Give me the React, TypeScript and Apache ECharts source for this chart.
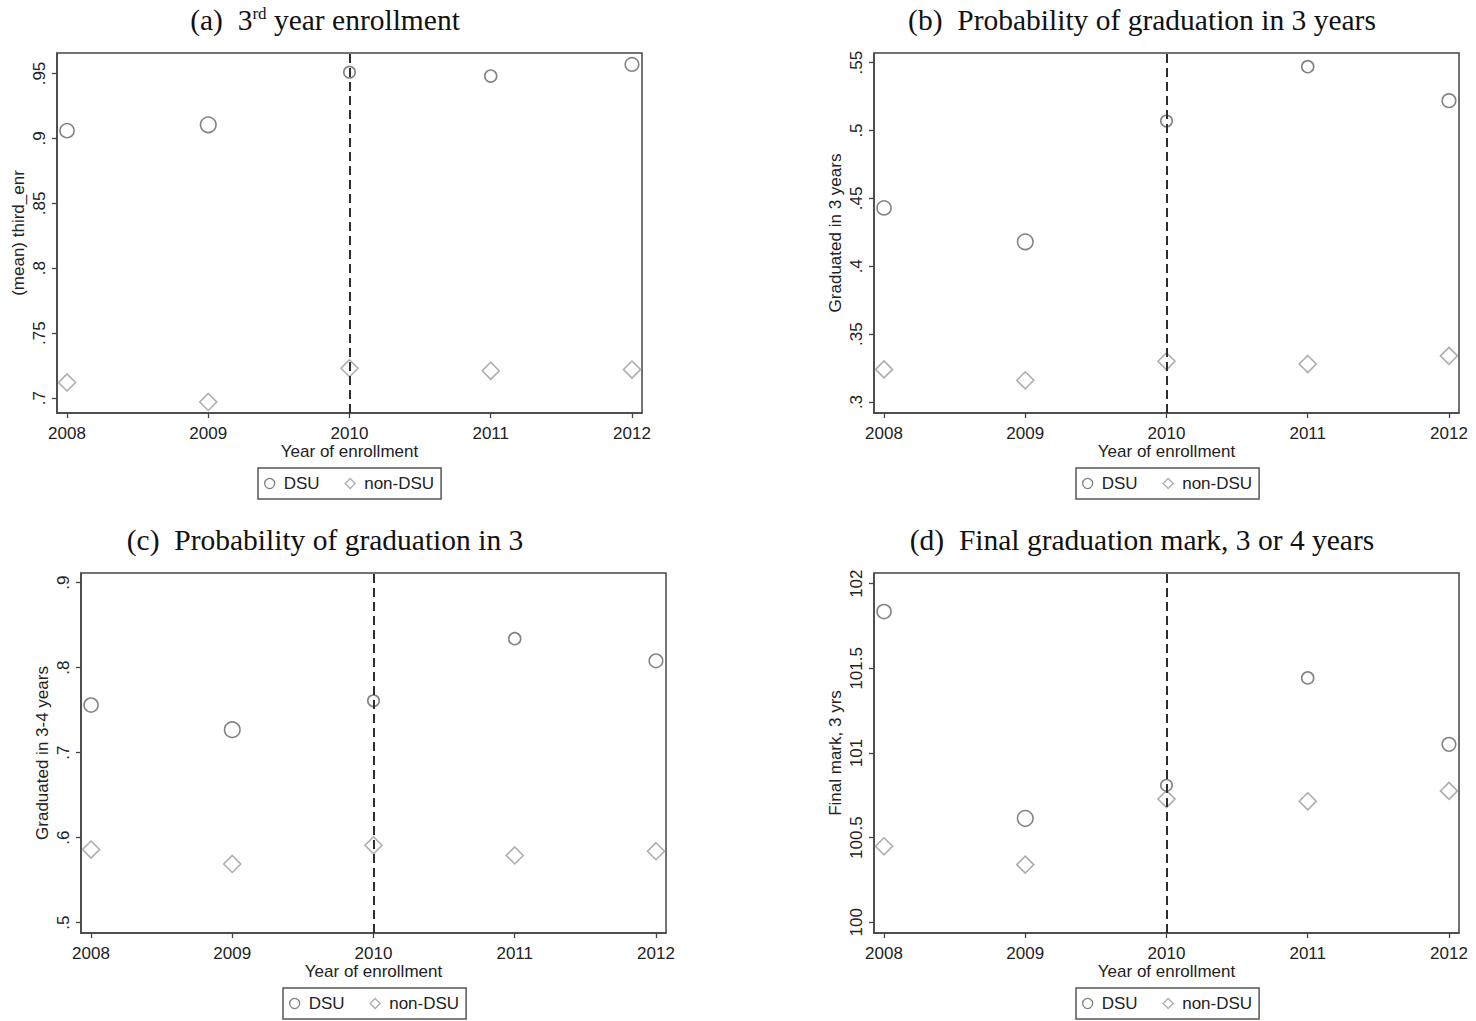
import React, { useEffect, useRef } from "react";
import * as echarts from "echarts";

// ---------- data ----------
const years = [2008, 2009, 2010, 2011, 2012];

const dsuA = [0.906, 0.9105, 0.951, 0.948, 0.957];
const nonDsuA = [0.712, 0.697, 0.723, 0.721, 0.722];

const dsuB = [0.443, 0.418, 0.507, 0.547, 0.522];
const nonDsuB = [0.324, 0.316, 0.33, 0.328, 0.334];

const dsuC = [0.756, 0.727, 0.761, 0.834, 0.808];
const nonDsuC = [0.586, 0.569, 0.591, 0.579, 0.584];

const dsuD = [101.835, 100.614, 100.809, 101.443, 101.051];
const nonDsuD = [100.449, 100.341, 100.728, 100.715, 100.776];

const ticksA = [0.7, 0.75, 0.8, 0.85, 0.9, 0.95];
const ticksB = [0.3, 0.35, 0.4, 0.45, 0.5, 0.55];
const ticksC = [0.5, 0.6, 0.7, 0.8, 0.9];
const ticksD = [100, 100.5, 101, 101.5, 102];

const cutoffYear = 2010;
const seriesNames = ["DSU", "non-DSU"];

// marker sizes (relative cell weights)
const dsuSizes = [14, 15.5, 11.5, 12, 13.5];
const nonDsuSizes = [17, 17, 17, 17, 17];

// ---------- styling ----------
const SANS = '"Liberation Sans", Arial, sans-serif';
const SERIF = '"Liberation Serif", "Times New Roman", serif';
const DSU_COLOR = "#646464";
const NON_COLOR = "#989898";
const FRAME = "#444";

const GRID_W = 585;
const GRID_H = 360;

type Panel = {
  title: string;
  tx: number;
  ty: number;
  left: number;
  top: number;
  yName: string;
  yMin: number;
  yMax: number;
  ticks: number[];
  dsu: number[];
  non: number[];
  legLeft: number;
  legTop: number;
  fmt: (v: number) => string;
};

const dropZero = (v: number) => String(v).replace(/^0\./, ".");

const panels: Panel[] = [
  {
    title: "(a)  3{sup|rd} year enrollment",
    tx: 325, ty: 20, left: 57, top: 53,
    yName: "(mean) third_enr", yMin: 0.6885, yMax: 0.9658,
    ticks: ticksA, dsu: dsuA, non: nonDsuA,
    legLeft: 258, legTop: 468, fmt: dropZero,
  },
  {
    title: "(b)  Probability of graduation in 3 years",
    tx: 1142, ty: 20, left: 874, top: 53,
    yName: "Graduated in 3 years", yMin: 0.2919, yMax: 0.5571,
    ticks: ticksB, dsu: dsuB, non: nonDsuB,
    legLeft: 1076, legTop: 468, fmt: dropZero,
  },
  {
    title: "(c)  Probability of graduation in 3",
    tx: 325, ty: 540, left: 81, top: 573,
    yName: "Graduated in 3-4 years", yMin: 0.4878, yMax: 0.9113,
    ticks: ticksC, dsu: dsuC, non: nonDsuC,
    legLeft: 283, legTop: 988, fmt: dropZero,
  },
  {
    title: "(d)  Final graduation mark, 3 or 4 years",
    tx: 1142, ty: 540, left: 874, top: 573,
    yName: "Final mark, 3 yrs", yMin: 99.937, yMax: 102.063,
    ticks: ticksD, dsu: dsuD, non: nonDsuD,
    legLeft: 1076, legTop: 988, fmt: (v: number) => String(v),
  },
];

function buildOption() {
  const grid: any[] = [];
  const xAxis: any[] = [];
  const yAxis: any[] = [];
  const series: any[] = [];
  const legend: any[] = [];
  const graphic: any[] = [];

  panels.forEach((p, i) => {
    grid.push({
      left: p.left,
      top: p.top,
      width: GRID_W,
      height: GRID_H,
      show: true,
      borderColor: FRAME,
      borderWidth: 1.5,
      backgroundColor: "#fff",
      containLabel: false,
    });
    xAxis.push({
      type: "value",
      gridIndex: i,
      min: 2007.929,
      max: 2012.071,
      name: "Year of enrollment",
      nameLocation: "middle",
      nameGap: 29,
      nameTextStyle: { fontFamily: SANS, fontSize: 17, color: "#222" },
      axisLine: { show: true, lineStyle: { color: FRAME, width: 1.5 } },
      axisTick: {
        show: true,
        length: 5,
        customValues: years,
        lineStyle: { color: FRAME, width: 1.3 },
      },
      axisLabel: {
        customValues: years,
        fontFamily: SANS,
        fontSize: 17,
        color: "#222",
        margin: 12,
        formatter: (v: number) => String(v),
      },
      splitLine: { show: false },
    });
    yAxis.push({
      type: "value",
      gridIndex: i,
      min: p.yMin,
      max: p.yMax,
      name: p.yName,
      nameLocation: "middle",
      nameGap: 30,
      nameRotate: 90,
      nameTextStyle: { fontFamily: SANS, fontSize: 17, color: "#222" },
      axisLine: { show: true, lineStyle: { color: FRAME, width: 1.5 } },
      axisTick: {
        show: true,
        length: 5,
        customValues: p.ticks,
        lineStyle: { color: FRAME, width: 1.3 },
      },
      axisLabel: {
        customValues: p.ticks,
        rotate: 90,
        fontFamily: SANS,
        fontSize: 17,
        color: "#222",
        margin: 9,
        formatter: p.fmt,
      },
      splitLine: { show: false },
    });
    series.push({
      type: "scatter",
      name: seriesNames[0],
      xAxisIndex: i,
      yAxisIndex: i,
      symbol: "circle",
      symbolSize: (_v: any, params: any) => dsuSizes[params.dataIndex],
      itemStyle: { color: "rgba(0,0,0,0)", borderColor: DSU_COLOR, borderWidth: 1.6 },
      data: years.map((y, k) => [y, p.dsu[k]]),
      markLine: {
        silent: true,
        symbol: ["none", "none"],
        label: { show: false },
        lineStyle: { type: [9, 5], color: "#2e2e2e", width: 2 },
        data: [{ xAxis: cutoffYear }],
        z: 5,
      },
      z: 3,
    });
    series.push({
      type: "scatter",
      name: seriesNames[1],
      xAxisIndex: i,
      yAxisIndex: i,
      symbol: "diamond",
      symbolSize: (_v: any, params: any) => nonDsuSizes[params.dataIndex],
      itemStyle: { color: "rgba(0,0,0,0)", borderColor: NON_COLOR, borderWidth: 1.6 },
      data: years.map((y, k) => [y, p.non[k]]),
      z: 3,
    });
    legend.push({
      left: p.legLeft,
      top: p.legTop,
      orient: "horizontal",
      borderColor: "#555",
      borderWidth: 1.5,
      borderRadius: 0,
      padding: [7, 7, 7, 6],
      itemGap: 25,
      itemWidth: 10,
      itemHeight: 10,
      selectedMode: false,
      textStyle: { fontFamily: SANS, fontSize: 17, color: "#222", padding: [0, 0, 0, 4] },
      data: [
        {
          name: seriesNames[0],
          icon: "circle",
          itemStyle: { color: "rgba(0,0,0,0)", borderColor: DSU_COLOR, borderWidth: 1.3 },
        },
        {
          name: seriesNames[1],
          icon: "diamond",
          itemStyle: { color: "rgba(0,0,0,0)", borderColor: NON_COLOR, borderWidth: 1.3 },
        },
      ],
    });
    graphic.push({
      type: "text",
      x: p.tx,
      y: p.ty,
      style: {
        text: p.title,
        align: "center",
        verticalAlign: "middle",
        fontFamily: SERIF,
        fontSize: 29.5,
        fill: "#111",
        rich: {
          sup: {
            fontFamily: SERIF,
            fontSize: 17,
            verticalAlign: "top",
            fill: "#111",
          },
        },
      },
    });
  });

  return {
    animation: false,
    backgroundColor: "#fff",
    grid,
    xAxis,
    yAxis,
    series,
    legend,
    graphic,
  };
}

export default function App() {
  const ref = useRef<HTMLDivElement>(null);
  useEffect(() => {
    if (!ref.current) return;
    const chart = echarts.init(ref.current, undefined, { renderer: "svg" });
    chart.setOption(buildOption() as any);
    return () => chart.dispose();
  }, []);
  return (
    <div
      ref={ref}
      style={{ position: "fixed", left: 0, top: 0, width: 1476, height: 1021, background: "#fff" }}
    />
  );
}
